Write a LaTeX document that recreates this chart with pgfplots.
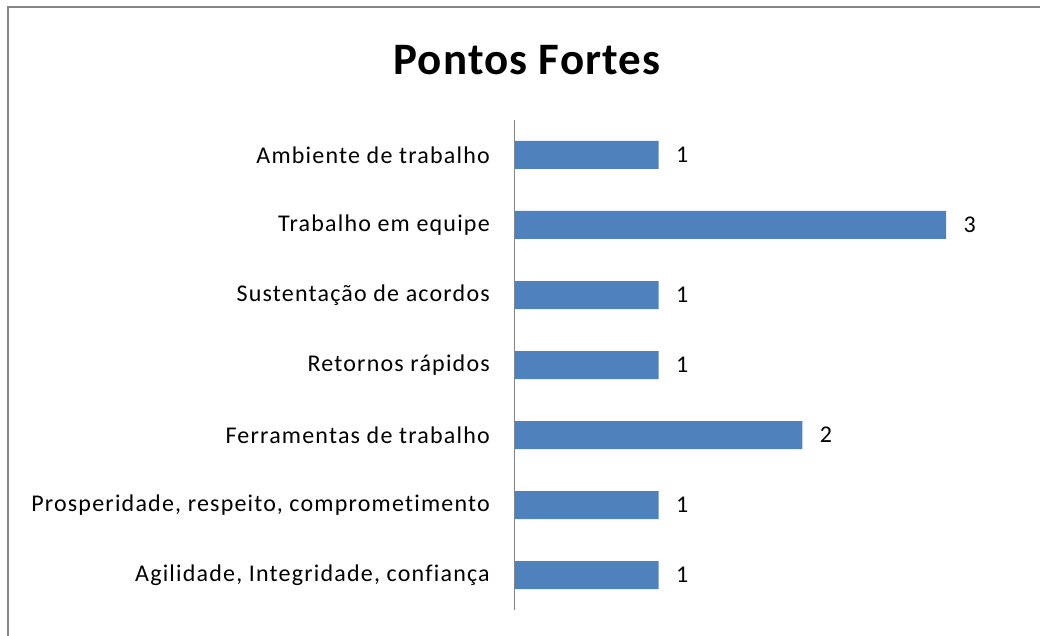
\documentclass[border=0pt]{standalone}
\usepackage{pgfplots}
\pgfplotsset{compat=1.18}
\usepackage{fontspec}
\setmainfont{Carlito}
\newfontfamily\lblfont[LetterSpace=5,Ligatures=NoCommon]{Carlito}
\newfontfamily\ttlfont[LetterSpace=2.5]{Carlito}
\definecolor{barblue}{HTML}{4F81BD}
\definecolor{axgrey}{HTML}{868686}
\begin{document}
\begin{tikzpicture}[x=1pt,y=1pt]
\path[use as bounding box] (-515,-25) rectangle (525,610);
\draw[axgrey,line width=2.2pt] (-507,-30) -- (-507,603) -- (530,603);
\node[font=\ttlfont\fontsize{45}{50}\selectfont\bfseries] at (12,550) {Pontos Fortes};
\begin{axis}[
  at={(0,0)}, anchor=south west,
  scale only axis, width=488.6pt, height=490pt,
  xmin=0, xmax=3.4, ymin=-0.5, ymax=6.5,
  axis x line=none, axis y line*=left,
  y axis line style={axgrey, line width=1pt, -},
  ytick={0,...,6},
  yticklabels={{Agilidade, Integridade, confiança},{Prosperidade, respeito, comprometimento},{Ferramentas de trabalho},{Retornos rápidos},{Sustentação de acordos},{Trabalho em equipe},{Ambiente de trabalho}},
  major tick length=0pt,
  yticklabel style={font=\lblfont\fontsize{24}{27}\selectfont, inner sep=0pt, xshift=-25pt},
  xbar, bar width=28pt, bar shift=0pt,
  nodes near coords,
  every node near coord/.append style={font=\lblfont\fontsize{24}{27}\selectfont, anchor=west, xshift=14pt, black},
  point meta=x,
  nodes near coords={\pgfmathprintnumber[assume math mode=true]{\pgfplotspointmeta}},
]
\addplot[fill=barblue, draw=none] coordinates {(1,0) (1,1) (2,2) (1,3) (1,4) (3,5) (1,6)};
\end{axis}
\end{tikzpicture}
\end{document}
